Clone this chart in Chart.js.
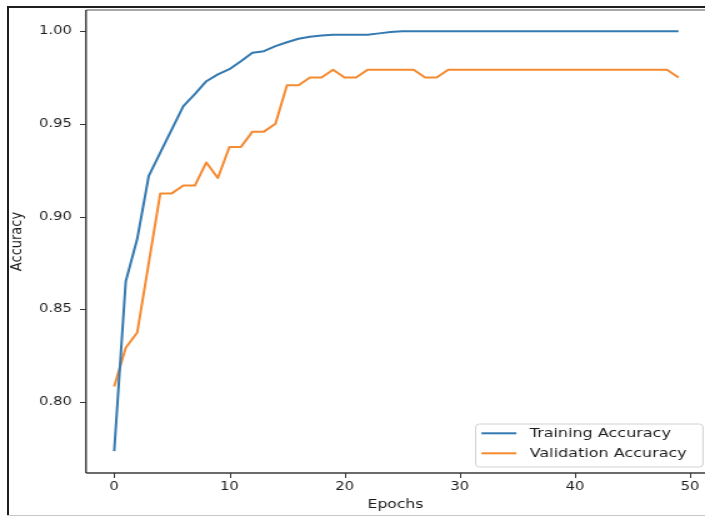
<!DOCTYPE html>
<html>
<head>
<meta charset="utf-8">
<title>Training and Validation Accuracy</title>
<script src="https://cdn.jsdelivr.net/npm/chart.js@4/dist/chart.umd.min.js"></script>
<style>
  html, body { margin: 0; padding: 0; background: #fff; overflow: hidden; width: 705px; height: 517px; }
  #clip { position: absolute; left: 0; top: 0; width: 705px; height: 517px; overflow: hidden; background: #fff; }
  #wrap { position: absolute; left: 0; top: 0; width: 564px; height: 517px; transform: scaleX(1.25); transform-origin: 0 0; }
  .edge { position: absolute; pointer-events: none; }
  #edgeTop { left: 7px; top: 6px; width: 698px; height: 2px; background: #1e1e1e; }
  #edgeLeft { left: 7px; top: 6px; width: 2px; height: 510px; background: #1e1e1e; }
  #edgeBottom { left: 7px; top: 515px; width: 698px; height: 1px; background: #c8c8c8; }
</style>
</head>
<body>
<div id="clip">
  <div id="wrap"><canvas id="accChart" width="564" height="517"></canvas></div>
  <div class="edge" id="edgeTop"></div>
  <div class="edge" id="edgeLeft"></div>
  <div class="edge" id="edgeBottom"></div>
</div>
<script>
// epochs and accuracy per epoch
const epochs = [0, 1, 2, 3, 4, 5, 6, 7, 8, 9, 10, 11, 12, 13, 14, 15, 16, 17, 18, 19,
  20, 21, 22, 23, 24, 25, 26, 27, 28, 29, 30, 31, 32, 33, 34, 35, 36, 37, 38, 39,
  40, 41, 42, 43, 44, 45, 46, 47, 48, 49];

const trainingAcc = [0.7735, 0.865, 0.888, 0.922, 0.9345, 0.947, 0.9596, 0.966, 0.973, 0.9767,
  0.9795, 0.9838, 0.9883, 0.9892, 0.9919, 0.994, 0.9959, 0.997, 0.9977, 0.998,
  0.998, 0.998, 0.998, 0.9988, 0.9995, 1.0, 1.0, 1.0, 1.0, 1.0,
  1.0, 1.0, 1.0, 1.0, 1.0, 1.0, 1.0, 1.0, 1.0, 1.0,
  1.0, 1.0, 1.0, 1.0, 1.0, 1.0, 1.0, 1.0, 1.0, 1.0];

const validationAcc = [0.8083, 0.8292, 0.8375, 0.875, 0.9125, 0.9125, 0.9167, 0.9167, 0.9292, 0.9208,
  0.9375, 0.9375, 0.9458, 0.9458, 0.95, 0.9708, 0.9708, 0.975, 0.975, 0.9792,
  0.975, 0.975, 0.9792, 0.9792, 0.9792, 0.9792, 0.9792, 0.975, 0.975, 0.9792,
  0.9792, 0.9792, 0.9792, 0.9792, 0.9792, 0.9792, 0.9792, 0.9792, 0.9792, 0.9792,
  0.9792, 0.9792, 0.9792, 0.9792, 0.9792, 0.9792, 0.9792, 0.9792, 0.9792, 0.975];

const xTicks = [0, 10, 20, 30, 40, 50];
const yTicks = [0.80, 0.85, 0.90, 0.95, 1.00];

Chart.defaults.font.family = '"DejaVu Sans", sans-serif';
Chart.defaults.color = '#1c1c1c';

function toPoints(values) {
  return values.map((v, i) => ({ x: epochs[i], y: v }));
}

// legend box sitting in the lower right corner of the plot
const legendBox = {
  id: 'legendBox',
  afterDraw(chart) {
    const { ctx, chartArea } = chart;
    const sets = chart.data.datasets;
    ctx.save();
    ctx.font = '12.8px "DejaVu Sans"';
    const textW = Math.max(...sets.map((d) => ctx.measureText(d.label).width));
    const w = 43.2 + textW + 13;
    const h = 43;
    const x = chartArea.right - 1.6 - w;
    const y = chartArea.bottom - 6 - h;
    ctx.fillStyle = 'rgba(255,255,255,0.85)';
    ctx.strokeStyle = '#d2d2d2';
    ctx.lineWidth = 1;
    ctx.beginPath();
    ctx.roundRect(x, y, w, h, 3);
    ctx.fill();
    ctx.stroke();
    sets.forEach((d, i) => {
      const ly = y + 9.3 + i * 20;
      ctx.strokeStyle = d.borderColor;
      ctx.lineWidth = 2;
      ctx.beginPath();
      ctx.moveTo(x + 4.6, ly);
      ctx.lineTo(x + 32.6, ly);
      ctx.stroke();
      ctx.fillStyle = '#1c1c1c';
      ctx.textBaseline = 'middle';
      ctx.fillText(d.label, x + 43.2, ly + 0.5);
    });
    ctx.restore();
  }
};

// spines (left, bottom, top) plus outward tick marks on both axes
const spinesAndTicks = {
  id: 'spinesAndTicks',
  afterDraw(chart) {
    const { ctx, chartArea, scales } = chart;
    const { left, right, top, bottom } = chartArea;
    ctx.save();
    ctx.strokeStyle = '#a8a8a8';
    ctx.lineWidth = 2;
    ctx.beginPath();
    ctx.moveTo(left, top);
    ctx.lineTo(right, top);
    ctx.stroke();

    ctx.lineWidth = 1.3;
    ctx.strokeStyle = '#222';
    ctx.beginPath();
    ctx.moveTo(left, top);
    ctx.lineTo(left, bottom);
    ctx.stroke();
    ctx.strokeStyle = '#3a3a3a';
    ctx.beginPath();
    ctx.moveTo(left, bottom);
    ctx.lineTo(right, bottom);
    ctx.stroke();

    ctx.strokeStyle = '#333';
    ctx.lineWidth = 1;
    ctx.beginPath();
    xTicks.forEach((v) => {
      const px = Math.round(scales.x.getPixelForValue(v)) + 0.5;
      ctx.moveTo(px, bottom);
      ctx.lineTo(px, bottom + 5);
    });
    yTicks.forEach((v) => {
      const py = Math.round(scales.y.getPixelForValue(v)) + 0.5;
      ctx.moveTo(left - 4.8, py);
      ctx.lineTo(left, py);
    });
    ctx.stroke();
    ctx.restore();
  }
};

new Chart(document.getElementById('accChart'), {
  type: 'line',
  data: {
    datasets: [
      {
        label: 'Training Accuracy',
        data: toPoints(trainingAcc),
        borderColor: '#3479b0',
        borderWidth: 2,
        pointRadius: 0,
        tension: 0,
        borderJoinStyle: 'round',
        fill: false
      },
      {
        label: 'Validation Accuracy',
        data: toPoints(validationAcc),
        borderColor: '#f58a31',
        borderWidth: 2,
        pointRadius: 0,
        tension: 0,
        borderJoinStyle: 'round',
        fill: false
      }
    ]
  },
  options: {
    responsive: false,
    animation: false,
    devicePixelRatio: 1,
    layout: { padding: { left: 0, top: 10, right: 0, bottom: 0 } },
    plugins: {
      legend: { display: false },
      tooltip: { enabled: false }
    },
    scales: {
      x: {
        type: 'linear',
        min: -2.45,
        max: 51.3,
        afterBuildTicks: (s) => { s.ticks = xTicks.map((v) => ({ value: v })); },
        afterFit: (s) => { s.height = 44; s.paddingLeft = 0; s.paddingRight = 0; },
        grid: { display: false, drawTicks: true, tickLength: 5 },
        border: { display: false },
        ticks: { font: { size: 11.8 }, padding: 2, maxRotation: 0, autoSkip: false, callback: (v) => String(v) },
        title: { display: true, text: 'Epochs', font: { size: 12.5 }, padding: { top: 0, bottom: 4.5 } }
      },
      y: {
        min: 0.7617,
        max: 1.0114,
        afterBuildTicks: (s) => { s.ticks = yTicks.map((v) => ({ value: v })); },
        afterFit: (s) => { s.width = 68.8; s.paddingTop = 0; s.paddingBottom = 0; },
        grid: { display: false, drawTicks: true, tickLength: 4.8 },
        border: { display: false },
        ticks: { font: { size: 11.8 }, padding: 6.4, callback: (v) => v.toFixed(2) },
        title: { display: true, text: 'Accuracy', font: { size: 13 }, padding: { top: 6.2, bottom: 0 } }
      }
    }
  },
  plugins: [legendBox, spinesAndTicks]
});
</script>
</body>
</html>
